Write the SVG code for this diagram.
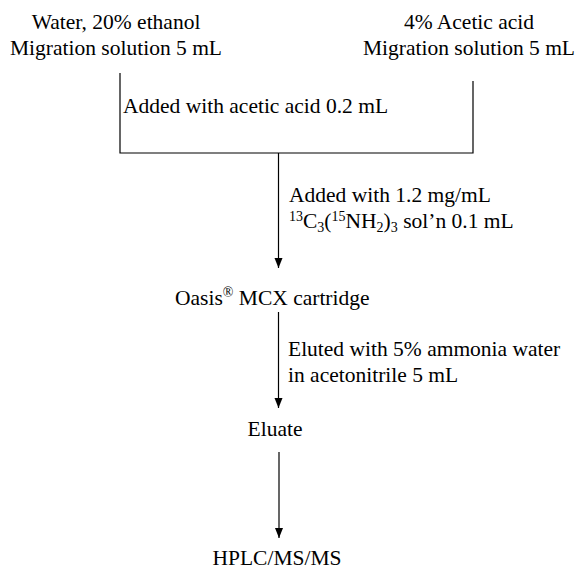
<svg xmlns="http://www.w3.org/2000/svg" width="581" height="571" viewBox="0 0 581 571">
<style>
text{font-family:"Liberation Serif","Times New Roman",serif;font-size:21.5px;fill:#000}
.c{text-anchor:middle}
.s{font-size:14px}
.ln{stroke:#000;stroke-width:1.2;fill:none}
</style>
<defs>
<marker id="ah" viewBox="0 0 10 10" refX="10" refY="5" markerWidth="10" markerHeight="10" markerUnits="userSpaceOnUse" orient="auto">
<path d="M0,1 L10,5 L0,9 Z" fill="#000"/>
</marker>
</defs>
<rect width="581" height="571" fill="#fff"/>
<g id="n-water">
<text class="c" x="116" y="29">Water, 20% ethanol</text>
<text class="c" x="116" y="55">Migration solution 5 mL</text>
</g>
<g id="n-acetic">
<text class="c" x="469" y="29">4% Acetic acid</text>
<text class="c" x="469" y="55">Migration solution 5 mL</text>
</g>
<g id="n-oasis">
<text x="175" y="305">Oasis<tspan class="s" dy="-8">®</tspan><tspan dy="8"> MCX cartridge</tspan></text>
</g>
<g id="n-eluate">
<text class="c" x="275" y="436">Eluate</text>
</g>
<g id="n-hplc">
<text class="c" x="277" y="565">HPLC/MS/MS</text>
</g>
<g id="connectors">
<path class="ln" d="M120,73 V153 H473 V81"/>
<line class="ln" x1="278.5" y1="153" x2="278.5" y2="268" marker-end="url(#ah)"/>
<line class="ln" x1="278.5" y1="312" x2="278.5" y2="408" marker-end="url(#ah)"/>
<line class="ln" x1="279" y1="452" x2="279" y2="538" marker-end="url(#ah)"/>
</g>
<g id="labels">
<text x="123" y="113">Added with acetic acid 0.2 mL</text>
<text x="289" y="202">Added with 1.2 mg/mL</text>
<text x="289" y="228"><tspan class="s" dy="-7">13</tspan><tspan dy="7">C</tspan><tspan class="s" dy="4">3</tspan><tspan dy="-4">(</tspan><tspan class="s" dy="-7">15</tspan><tspan dy="7">NH</tspan><tspan class="s" dy="4">2</tspan><tspan dy="-4">)</tspan><tspan class="s" dy="4">3</tspan><tspan dy="-4"> sol’n 0.1 mL</tspan></text>
<text x="288" y="356">Eluted with 5% ammonia water</text>
<text x="288" y="382">in acetonitrile 5 mL</text>
</g>
</svg>
